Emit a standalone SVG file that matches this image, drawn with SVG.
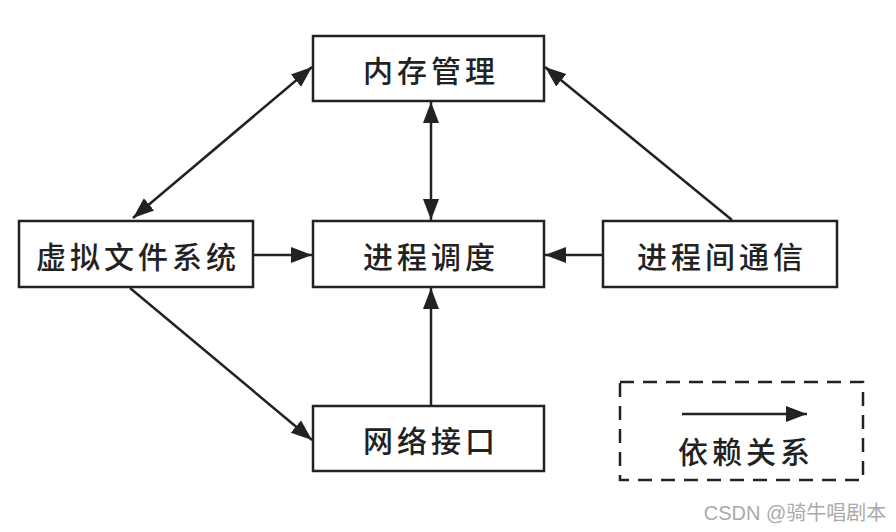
<svg xmlns="http://www.w3.org/2000/svg" width="896" height="532" viewBox="0 0 896 532">
<style>
.box{fill:#fff;stroke:#222;stroke-width:2.5}
.lbl{font-family:"Noto Sans CJK SC","Noto Sans",sans-serif;font-size:30px;font-weight:500;fill:#222;text-anchor:middle;dominant-baseline:central;letter-spacing:4px}
.con{stroke:#222;stroke-width:2.5;fill:none}
</style>
<defs>
<marker id="ah" markerUnits="userSpaceOnUse" markerWidth="22" markerHeight="18" viewBox="0 0 22 18" refX="21" refY="9" orient="auto-start-reverse">
<path d="M0,1 L21,9 L0,17 z" fill="#222"/>
</marker>
</defs>
<rect width="896" height="532" fill="#fff"/>
<g id="connectors">
<line class="con" x1="133" y1="218" x2="312" y2="67" marker-start="url(#ah)" marker-end="url(#ah)"/>
<line class="con" x1="431" y1="102" x2="431" y2="220" marker-start="url(#ah)" marker-end="url(#ah)"/>
<line class="con" x1="254" y1="255" x2="312" y2="255" marker-end="url(#ah)"/>
<line class="con" x1="603" y1="255" x2="545" y2="255" marker-end="url(#ah)"/>
<line class="con" x1="732" y1="220" x2="545" y2="67" marker-end="url(#ah)"/>
<line class="con" x1="130" y1="288" x2="312" y2="440" marker-end="url(#ah)"/>
<line class="con" x1="431" y1="405" x2="431" y2="288" marker-end="url(#ah)"/>
</g>
<g id="n-memory"><rect class="box" x="313" y="36" width="231" height="65"/><text class="lbl" x="431" y="69">内存管理</text></g>
<g id="n-vfs"><rect class="box" x="19" y="221" width="234" height="66"/><text class="lbl" x="138" y="255">虚拟文件系统</text></g>
<g id="n-sched"><rect class="box" x="313" y="221" width="231" height="66"/><text class="lbl" x="431" y="255">进程调度</text></g>
<g id="n-ipc"><rect class="box" x="603" y="221" width="234" height="66"/><text class="lbl" x="722" y="255">进程间通信</text></g>
<g id="n-net"><rect class="box" x="313" y="406" width="231" height="65"/><text class="lbl" x="431" y="439">网络接口</text></g>
<g id="legend">
<rect x="620" y="382" width="243" height="98" fill="none" stroke="#222" stroke-width="2.5" stroke-dasharray="14,9"/>
<line class="con" x1="682" y1="414" x2="807" y2="414" marker-end="url(#ah)"/>
<text class="lbl" x="746" y="450">依赖关系</text>
</g>
<text x="795" y="513" font-family="'Liberation Sans','Noto Sans CJK SC',sans-serif" font-size="20" fill="#aaa" text-anchor="middle" dominant-baseline="central">CSDN @骑牛唱剧本</text>
</svg>
